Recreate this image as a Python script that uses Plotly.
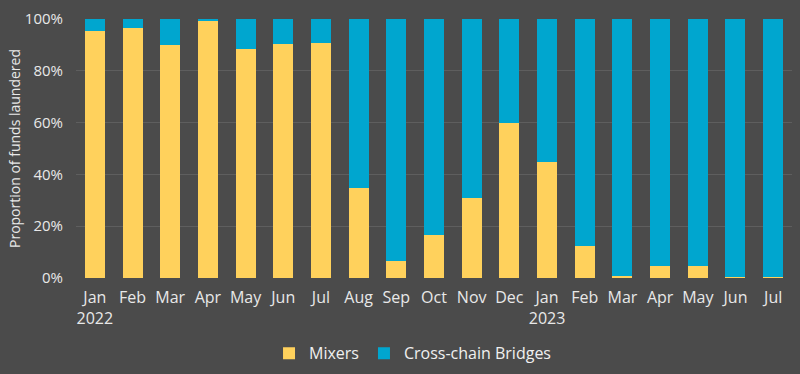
import plotly.graph_objects as go

months = ["Jan", "Feb", "Mar", "Apr", "May", "Jun", "Jul", "Aug", "Sep", "Oct",
          "Nov", "Dec", "Jan", "Feb", "Mar", "Apr", "May", "Jun", "Jul"]
years = {0: "2022", 12: "2023"}
mixers = [95.5, 96.6, 89.8, 99.5, 88.4, 90.2, 90.7, 34.7, 6.5, 16.5,
          30.8, 59.9, 44.8, 12.5, 0.6, 4.6, 4.6, 0.4, 0.4]
bridges = [100 - m for m in mixers]
yticks = [0, 20, 40, 60, 80, 100]

x = list(range(len(months)))
ticktext = [m + ("<br>" + years[i] if i in years else "") for i, m in enumerate(months)]

fig = go.Figure()
fig.add_bar(x=x, y=mixers, name="Mixers", marker_color="#FFD15C", marker_line_width=0)
fig.add_bar(x=x, y=bridges, name="Cross-chain Bridges", marker_color="#00A6CF", marker_line_width=0)

font_fam = "Open Sans, Lato, sans-serif"
fig.update_layout(
    barmode="stack",
    bargap=0.47,
    width=800, height=374,
    paper_bgcolor="#4b4b4b",
    plot_bgcolor="#4b4b4b",
    margin=dict(l=76, r=8, t=19, b=96, autoexpand=False),
    font=dict(family=font_fam, color="#e8e8e8", size=14),
    legend=dict(orientation="h", x=0.47, xanchor="center", y=-0.225, yanchor="top",
                font=dict(size=16, color="#f0f0f0"), itemwidth=30, traceorder="normal"),
    xaxis=dict(tickmode="array", tickvals=x, ticktext=ticktext, showgrid=False,
               tickfont=dict(size=16), range=[-0.5, len(months) - 0.5], ticklen=0,
               ticklabelstandoff=8, automargin=False),
    yaxis=dict(range=[0, 100], tickvals=yticks, ticktext=[f"{v}%" for v in yticks],
               gridcolor="#5e5e5e", gridwidth=1, zeroline=False, tickfont=dict(size=15),
               ticklabelstandoff=12, automargin=False,
               title=dict(text="Proportion of funds laundered", font=dict(size=14), standoff=0)),
    showlegend=True,
)
fig.write_html("out.html", config={"displayModeBar": False},
               post_script="document.body.style.margin='0px';")
